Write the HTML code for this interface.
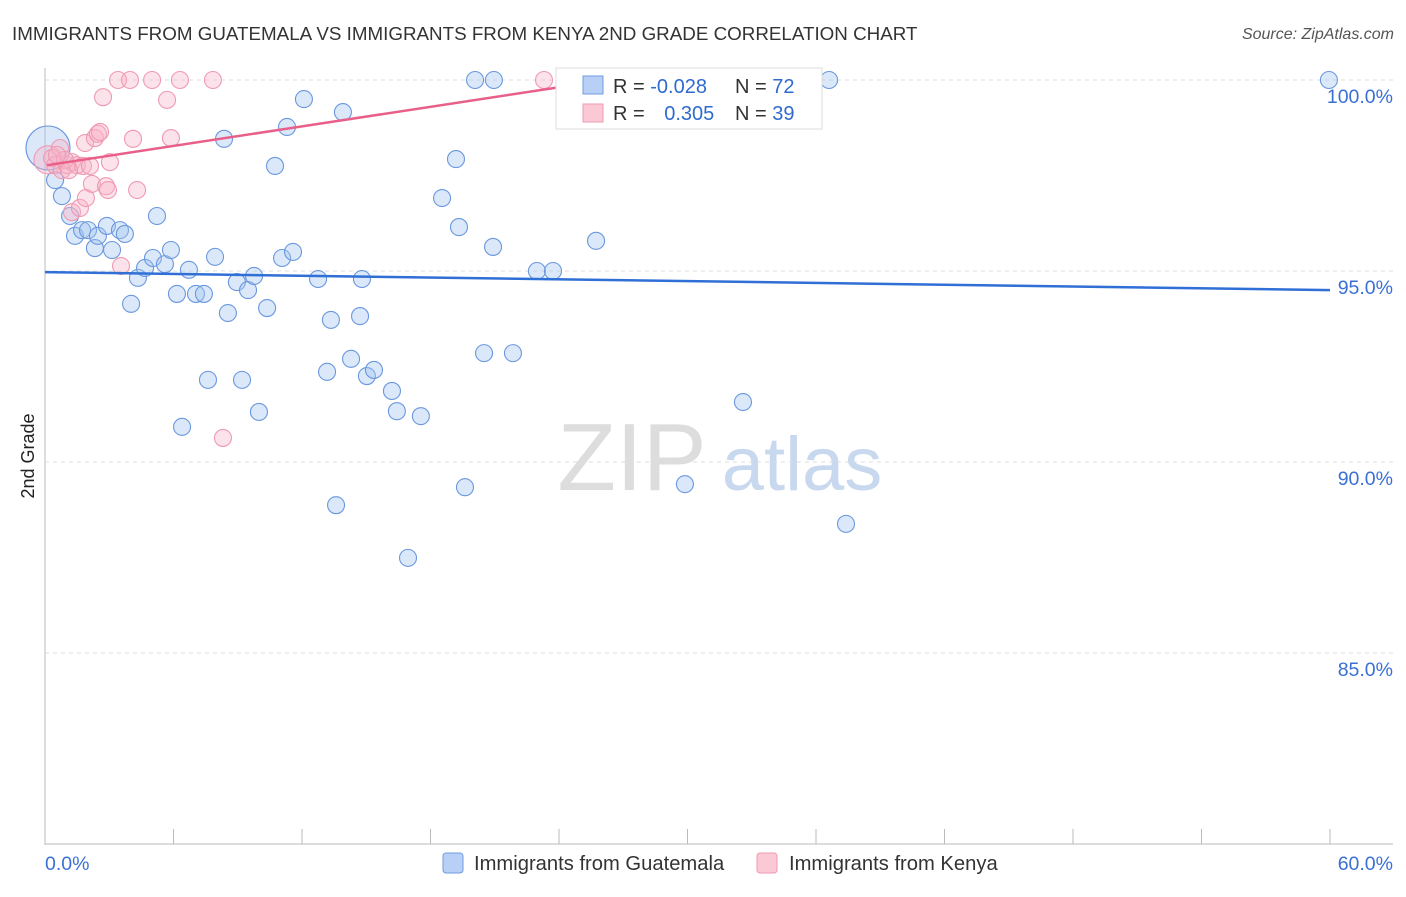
<!DOCTYPE html>
<html><head><meta charset="utf-8"><style>
body{margin:0;background:#fff;font-family:"Liberation Sans",sans-serif}
svg text{font-family:"Liberation Sans",sans-serif}
</style></head><body>
<svg id="c" width="1406" height="892">
<text x="12" y="40" font-size="18.8" fill="#333">IMMIGRANTS FROM GUATEMALA VS IMMIGRANTS FROM KENYA 2ND GRADE CORRELATION CHART</text>
<text x="1394" y="39" font-size="16" fill="#555" font-style="italic" text-anchor="end">Source: ZipAtlas.com</text>
<text x="34" y="456" font-size="18" fill="#222" text-anchor="middle" transform="rotate(-90 34 456)">2nd Grade</text>
<g><text x="632" y="490" font-size="96" fill="#ddd" font-family="Liberation Serif" text-anchor="middle">ZIP</text><text x="802" y="490" font-size="76" fill="#c8d8ee" text-anchor="middle">atlas</text></g>
<g id="grid"></g><g id="marks"></g><g id="trend"></g>
<g>
<rect x="556" y="68" width="266" height="61" fill="#fff" stroke="#ddd"/>
<rect x="583" y="76" width="20" height="18" fill="#b8d0f5" stroke="#6f9be0"/>
<rect x="583" y="104" width="20" height="18" fill="#fbc9d6" stroke="#ee9ab1"/>
<text x="613" y="93" font-size="20" fill="#333">R = <tspan fill="#2f6ad0">-0.028</tspan></text>
<text x="735" y="93" font-size="20" fill="#333">N = <tspan fill="#2f6ad0">72</tspan></text>
<text x="613" y="120" font-size="20" fill="#333">R = <tspan fill="#2f6ad0" dx="14">0.305</tspan></text>
<text x="735" y="120" font-size="20" fill="#333">N = <tspan fill="#2f6ad0">39</tspan></text>
</g>
<g>
<rect x="443" y="853" width="20" height="20" rx="3" fill="#b8d0f5" stroke="#6f9be0"/>
<text x="474" y="870" font-size="20.2" fill="#333">Immigrants from Guatemala</text>
<rect x="757" y="853" width="20" height="20" rx="3" fill="#fbc9d6" stroke="#ee9ab1"/>
<text x="789" y="870" font-size="20.2" fill="#333">Immigrants from Kenya</text>
</g>
</svg>
<script>
const yTicks=[100,95,90,85];
const yTickLabels=["100.0%","95.0%","90.0%","85.0%"];
const xTickVals=[0,6,12,18,24,30,36,42,48,54,60];
const xEndLabels=["0.0%","60.0%"];
const blueX=[0.14,0.47,0.79,1.17,1.40,1.73,2.01,2.33,2.47,2.89,3.13,3.50,3.73,4.02,4.34,4.67,5.04,5.23,5.60,5.88,6.16,6.40,6.72,7.05,7.42,7.61,7.94,8.36,8.54,8.96,9.20,9.48,9.76,9.99,10.37,10.74,11.07,11.30,11.58,12.09,12.75,13.17,13.35,13.59,13.91,14.29,14.71,14.80,15.03,15.36,16.20,16.43,16.95,17.55,18.54,19.19,19.33,19.61,20.08,20.50,20.92,20.96,21.85,22.97,23.72,25.73,32.59,33.62,36.61,37.40,59.95,29.88];
const blueY=[98.22,97.38,96.96,96.44,95.92,96.07,96.07,95.60,95.92,96.18,95.55,96.07,95.97,94.14,94.82,95.08,95.34,96.44,95.18,95.55,94.40,90.92,95.03,94.40,94.40,92.15,95.37,98.46,93.90,94.71,92.15,94.50,94.87,91.31,94.03,97.75,95.34,98.77,95.50,99.50,94.79,92.36,93.72,88.87,99.16,92.70,93.82,94.79,92.25,92.41,91.86,91.33,87.49,91.20,96.91,97.93,96.15,89.34,100,92.85,95.63,100,92.85,95.00,95.00,95.79,91.57,100,100,88.38,100,89.42];
const pinkX=[0.14,0.33,0.47,0.70,0.79,1.03,1.26,1.49,1.26,1.63,1.91,1.87,2.19,2.33,2.47,2.57,2.71,3.03,2.85,2.94,3.41,3.55,3.97,4.11,4.30,5.00,5.70,5.88,6.30,7.84,8.31,23.30,24.47,24.84,1.77,0.93,0.56,2.10,1.12];
const pinkY=[97.91,97.96,97.77,98.22,97.64,97.77,97.85,97.77,96.54,96.65,96.91,98.35,97.28,98.48,98.59,98.64,99.55,97.85,97.22,97.12,100,95.13,100,98.46,97.12,100,99.48,98.48,100,100,90.63,100,100,100,97.75,97.91,98.04,97.75,97.64];
const blueTrend=[94.97,94.50];
const pinkTrendX=[0.1,24.7];
const pinkTrendY=[97.77,99.87];
const X=v=>45+v/60*1285, Y=v=>80+(100-v)*38.2;
const NS="http://www.w3.org/2000/svg";
function mk(p,t,a){const e=document.createElementNS(NS,t);for(const k in a)e.setAttribute(k,a[k]);p.appendChild(e);return e;}
const g=document.getElementById('grid');
const ax=mk(g,'line',{x1:45,y1:68,x2:45,y2:845,stroke:'#bbb'});


const bx=mk(g,'line',{x1:45,y1:844,x2:1393,y2:844,stroke:'#bbb'});


yTicks.forEach((t,i)=>{
 const l=mk(g,'line',{x1:45,y1:Y(t),x2:1393,y2:Y(t),stroke:'#ddd','stroke-dasharray':'4,4'});
 
 
 const tx=mk(g,'text',{x:1393,y:Y(t)+23,'font-size':19.5,fill:'#3a70d6','text-anchor':'end'});
 tx.textContent=yTickLabels[i];
 
 
});
xTickVals.forEach(v=>{
 const l=mk(g,'line',{x1:X(v),y1:829,x2:X(v),y2:844,stroke:'#bbb'});
 
 
});
[[0,'start',45],[60,'end',1393]].forEach((a,i)=>{
 const tx=mk(g,'text',{x:a[2],y:870,'font-size':19.5,fill:'#3a70d6','text-anchor':a[1]});
 tx.textContent=xEndLabels[i];
 
 
});
const m=document.getElementById('marks');
blueX.forEach((v,i)=>{
 const c=mk(m,'circle',{cx:X(v),cy:Y(blueY[i]),r:i==0?22:8.5,fill:'rgba(160,195,240,0.38)',stroke:'#6a98de','stroke-width':1.1});
 
 
});
pinkX.forEach((v,i)=>{
 const c=mk(m,'circle',{cx:X(v),cy:Y(pinkY[i]),r:i==0?14:8.5,fill:'rgba(248,180,200,0.38)',stroke:'#ef9ab2','stroke-width':1.1});
 
 
});
const tr=document.getElementById('trend');
const bl=mk(tr,'line',{x1:X(0),y1:Y(blueTrend[0]),x2:X(60),y2:Y(blueTrend[1]),stroke:'#2f6fd6','stroke-width':2.5});


const pl=mk(tr,'line',{x1:X(pinkTrendX[0]),y1:Y(pinkTrendY[0]),x2:X(pinkTrendX[1]),y2:Y(pinkTrendY[1]),stroke:'#e8608a','stroke-width':2.5});


</script>
</body></html>
